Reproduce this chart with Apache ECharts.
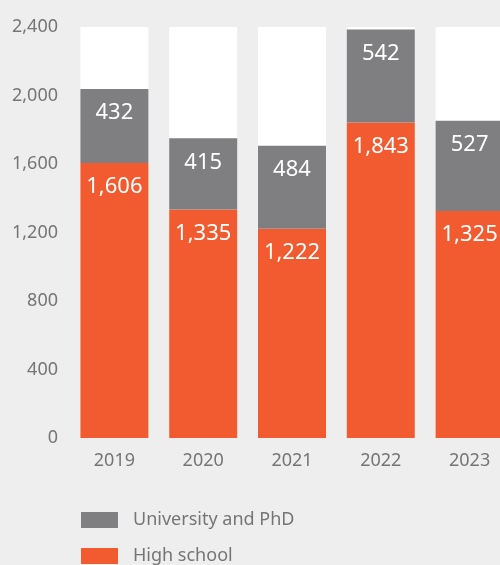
<!DOCTYPE html>
<html>
<head>
<meta charset="utf-8">
<script src="https://cdn.jsdelivr.net/npm/echarts@6/dist/echarts.min.js"></script>
<style>
  html, body { margin: 0; padding: 0; background: #eeeeee; }
  #chart { width: 500px; height: 565px; }
</style>
</head>
<body>
<div id="chart"></div>
<script>
// Enrolments by education level, stacked per year
const years = ['2019', '2020', '2021', '2022', '2023'];
const highSchool = [1606, 1335, 1222, 1843, 1325];
const university = [432, 415, 484, 542, 527];
const yTicks = [0, 400, 800, 1200, 1600, 2000, 2400];
const legendNames = ['University and PhD', 'High school'];

const FONT = "'Noto Sans', sans-serif";
const TEXT_GRAY = '#757575';
const fmt = v => Number(v).toLocaleString('en-US');

const chart = echarts.init(document.getElementById('chart'), null, { renderer: 'canvas' });

const segLabel = {
  show: true,
  position: 'insideTop',
  distance: 13,
  color: '#ffffff',
  fontFamily: FONT,
  fontSize: 22,
  formatter: p => fmt(p.value)
};

// one legend block per entry, stacked vertically
const legendBlock = (name, top) => ({
  orient: 'vertical',
  left: 81,
  top: top,
  padding: 0,
  itemWidth: 37,
  itemHeight: 16,
  icon: 'rect',
  data: [name],
  textStyle: { color: TEXT_GRAY, fontFamily: FONT, fontSize: 18, padding: [0, 0, 0, 10] }
});

chart.setOption({
  backgroundColor: '#eeeeee',
  animation: false,
  grid: { left: 70, top: 27, width: 444, height: 411, containLabel: false, outerBoundsMode: 'none' },
  xAxis: {
    type: 'category',
    data: years,
    axisLine: { show: false },
    axisTick: { show: false },
    axisLabel: { color: TEXT_GRAY, fontFamily: FONT, fontSize: 18, margin: 14 }
  },
  yAxis: {
    type: 'value',
    min: yTicks[0],
    max: yTicks[yTicks.length - 1],
    interval: 400,
    splitLine: { show: false },
    axisLine: { show: false },
    axisTick: { show: false },
    axisLabel: { color: TEXT_GRAY, fontFamily: FONT, fontSize: 18, margin: 12, formatter: fmt }
  },
  legend: [legendBlock(legendNames[0], 511), legendBlock(legendNames[1], 547)],
  series: [
    {
      name: 'High school',
      type: 'bar',
      stack: 'total',
      barWidth: 68,
      data: highSchool,
      itemStyle: { color: '#f15b2f' },
      showBackground: true,
      backgroundStyle: { color: '#ffffff' },
      label: segLabel
    },
    {
      name: 'University and PhD',
      type: 'bar',
      stack: 'total',
      barWidth: 68,
      data: university,
      itemStyle: { color: '#7f7f82' },
      label: segLabel
    }
  ]
});
</script>
</body>
</html>
